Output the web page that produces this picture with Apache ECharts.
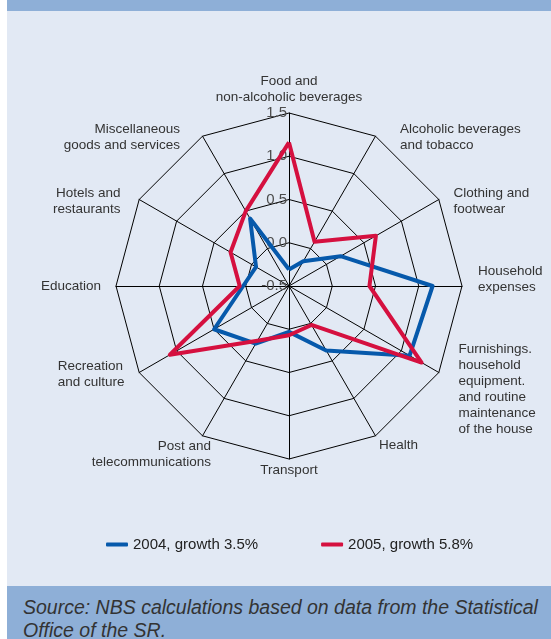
<!DOCTYPE html>
<html>
<head>
<meta charset="utf-8">
<script src="https://cdn.jsdelivr.net/npm/echarts@6/dist/echarts.min.js"></script>
<style>
  html, body { margin: 0; padding: 0; width: 551px; height: 639px; background: #fff; overflow: hidden; }
  #panel { position: absolute; left: 7px; top: 0; width: 544px; height: 639px; background: #e2e9f4; }
  #head  { position: absolute; left: 7px; top: 0; width: 544px; height: 11px; background: #8eafd7; }
  #foot  { position: absolute; left: 7px; top: 586px; width: 544px; height: 53px; background: #8eafd7; }
  #src   { position: absolute; left: 23px; top: 596px; font: italic 19.5px/23px "Liberation Sans", Arial, sans-serif;
           color: #333; white-space: nowrap; }
  #chart { position: absolute; left: 0; top: 0; width: 551px; height: 586px; }
</style>
</head>
<body>
<div id="panel"></div>
<div id="head"></div>
<div id="foot"></div>
<div id="src">Source: NBS calculations based on data from the Statistical<br>Office of the SR.</div>
<div id="chart"></div>
<script>
// Consumption categories, clockwise from the top
const categories = [
  'Food and\nnon-alcoholic beverages',
  'Alcoholic beverages\nand tobacco',
  'Clothing and\nfootwear',
  'Household\nexpenses',
  'Furnishings.\nhousehold\nequipment.\nand routine\nmaintenance\nof the house',
  'Health',
  'Transport',
  'Post and\ntelecommunications',
  'Recreation\nand culture',
  'Education',
  'Hotels and\nrestaurants',
  'Miscellaneous\ngoods and services'
];

// Contributions (percentage points), same order as categories
const values2004 = [-0.31, -0.17, 0.19, 1.16, 1.11, 0.36, 0.03, 0.27, 0.50, 0.03, -0.06, 0.40];
const values2005 = [1.16, 0.09, 0.66, 0.43, 1.27, 0.02, 0.07, 0.23, 1.09, 0.07, 0.28, 0.50];

const seriesNames = ['2004, growth 3.5%', '2005, growth 5.8%'];
const axisMin = -0.5;
const axisMax = 1.5;

// Fine placement of the category names: [horizontal padding, vertical shift]
const nameNudge = [
  [0, 0], [23, 4], [12, 3], [13, -7], [17, 15], [2, 7],
  [0, 0], [-10, 16], [12, 0], [12, 0], [16, 3], [21, 4]
];
const leftSide = [false, false, false, false, false, false, false, true, true, true, true, true];

// ECharts places radar indicators counter-clockwise; reorder to run clockwise
const order = [0].concat(categories.slice(1).map((_, i) => categories.length - 1 - i));

const baseFont = { fontFamily: 'Liberation Sans', fontSize: 13.5, color: '#333', lineHeight: 16 };
const rich = {};
categories.forEach((c, i) => {
  const [pad, dy] = nameNudge[i];
  rich['n' + i] = Object.assign({}, baseFont, {
    padding: leftSide[i] ? [0, pad, 0, 0] : [0, 0, 0, pad]
  });
  if (i === 8) rich['n' + i].align = 'left';
  rich['s' + i] = { fontSize: 1, lineHeight: Math.max(1, Math.abs(dy) * 2) };
});

function nameLabel(name) {
  const i = categories.indexOf(name);
  const dy = nameNudge[i][1];
  let lines = name.split('\n').map(l => '{n' + i + '|' + l + '}');
  if (dy > 0) lines = ['{s' + i + '| }'].concat(lines);
  if (dy < 0) lines = lines.concat(['{s' + i + '| }']);
  return lines.join('\n');
}

const indicator = order.map(i => {
  const ind = { name: categories[i], min: axisMin, max: axisMax };
  if (i === 0) ind.axisLabel = { show: true };
  return ind;
});

const chart = echarts.init(document.getElementById('chart'), null, { renderer: 'canvas' });
chart.setOption({
  animation: false,
  legend: {
    data: seriesNames,
    left: 101,
    top: 532,
    icon: 'roundRect',
    itemWidth: 22,
    itemHeight: 4,
    itemGap: 63,
    textStyle: { fontFamily: 'Liberation Sans', fontSize: 15, color: '#222' }
  },
  radar: {
    center: [289, 286],
    radius: 173,
    startAngle: 90,
    splitNumber: 4,
    shape: 'polygon',
    indicator: indicator,
    nameGap: 3,
    axisName: {
      formatter: nameLabel,
      rich: rich,
      color: '#333',
      fontFamily: 'Liberation Sans',
      fontSize: 13.5,
      lineHeight: 16
    },
    splitLine: { lineStyle: { color: '#000', width: 1 } },
    splitArea: { show: false },
    axisLine: { lineStyle: { color: '#000', width: 1 } },
    axisTick: { show: false },
    axisLabel: {
      show: false,
      color: '#4d4d4d',
      fontFamily: 'Liberation Sans',
      fontSize: 15,
      margin: 2,
      showMinLabel: true,
      showMaxLabel: true,
      formatter: v => Number(v).toFixed(1)
    }
  },
  series: [{
    type: 'radar',
    symbol: 'none',
    lineStyle: { width: 4 },
    data: [
      { name: seriesNames[0], value: order.map(i => values2004[i]),
        itemStyle: { color: '#0659ab' }, lineStyle: { color: '#0659ab', width: 4 } },
      { name: seriesNames[1], value: order.map(i => values2005[i]),
        itemStyle: { color: '#d5103f' }, lineStyle: { color: '#d5103f', width: 4 } }
    ]
  }]
});
</script>
</body>
</html>
